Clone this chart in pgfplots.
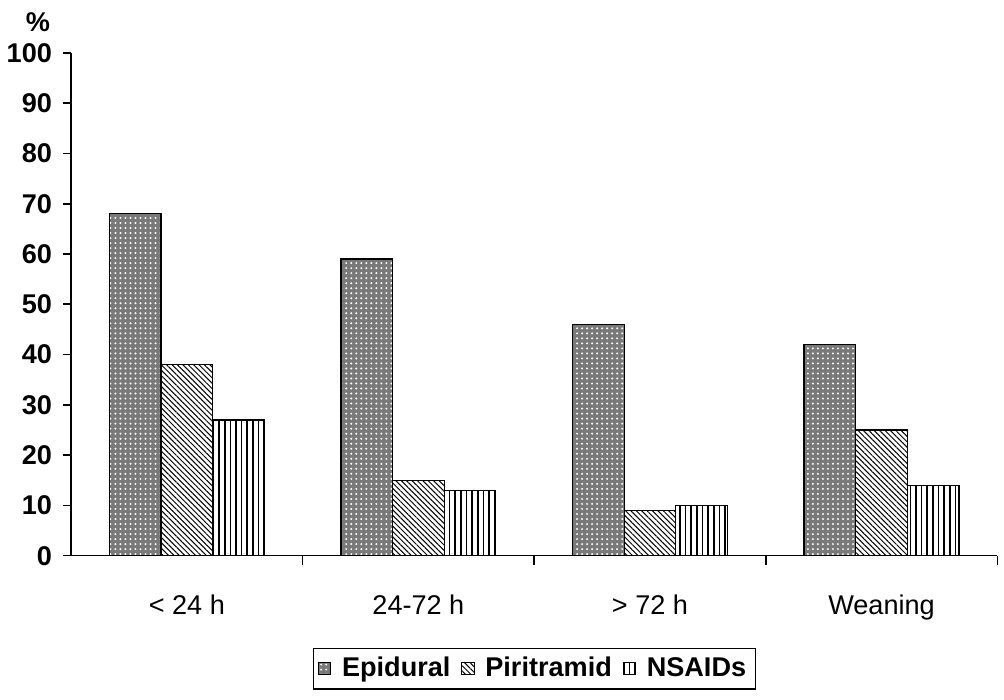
\documentclass[border=0pt]{standalone}
\usepackage{pgfplots}
\pgfplotsset{compat=1.18}
\usetikzlibrary{patterns,patterns.meta}
\usepackage{fontspec}
\setmainfont{Liberation Sans}
\begin{document}
\begin{tikzpicture}
\begin{axis}[
  scale only axis,
  width=461.5pt, height=250.5pt,
  ybar=0pt, bar width=0.223,
  xmin=-0.5, xmax=3.5,
  ymin=0, ymax=100,
  axis x line*=bottom, axis y line*=left,
  axis line style={line width=0.8pt},
  ytick={0,10,...,100},
  yticklabel style={font=\bfseries\fontsize{13.5}{16}\selectfont, xshift=-2pt},
  /pgf/number format/assume math mode=true,
  tick style={black, line width=0.8pt},
  tick align=outside,
  major tick length=4pt,
  xtick={0,1,2,3},
  xticklabels={{\textless{} 24 h},{24-72 h},{\textgreater{} 72 h},{Weaning}},
  x tick style={draw=none},
  xticklabel style={font=\fontsize{13.5}{16}\selectfont, yshift=-12pt},
  extra x ticks={0.5,1.5,2.5,3.5},
  extra x tick labels={},
  extra x tick style={x tick style={draw=black, line width=0.8pt}, major tick length=4.5pt},
  ylabel={\%},
  ylabel style={rotate=-90, at={(rel axis cs:0,1)}, anchor=south east, font=\bfseries\fontsize{13.5}{16}\selectfont, xshift=-7pt, yshift=7pt},
  legend style={at={(0.5,-0.183)}, anchor=north, legend columns=3, draw=black, line width=0.6pt,
    font=\bfseries\fontsize{13.5}{16}\selectfont, inner sep=2.5pt,
    /tikz/every odd column/.append style={column sep=3.5pt},
    /tikz/every even column/.append style={column sep=3.5pt}},
  legend image code/.code={\draw[#1, line width=0.4pt] (0pt,-3pt) rectangle (6pt,3pt);},
]
\addplot[draw=black, line width=0.6pt, fill=gray!95!black, postaction={pattern={Dots[distance=2.5pt, radius=0.55pt]}, pattern color=white}]
  coordinates {(0,68) (1,59) (2,46) (3,42)};
\addplot[draw=black, line width=0.6pt, fill=white, postaction={pattern={Lines[angle=-45, distance=1.9pt, line width=0.5pt]}, pattern color=black}]
  coordinates {(0,38) (1,15) (2,9) (3,25)};
\addplot[draw=black, line width=0.6pt, fill=white, postaction={pattern={Lines[angle=90, distance=2.8pt, line width=0.8pt]}, pattern color=black}]
  coordinates {(0,27) (1,13) (2,10) (3,14)};
\legend{Epidural, Piritramid, NSAIDs}
\end{axis}
\path (current bounding box.north) ++(0,3pt);
\path (current bounding box.south) ++(0,-5pt);
\end{tikzpicture}
\end{document}
